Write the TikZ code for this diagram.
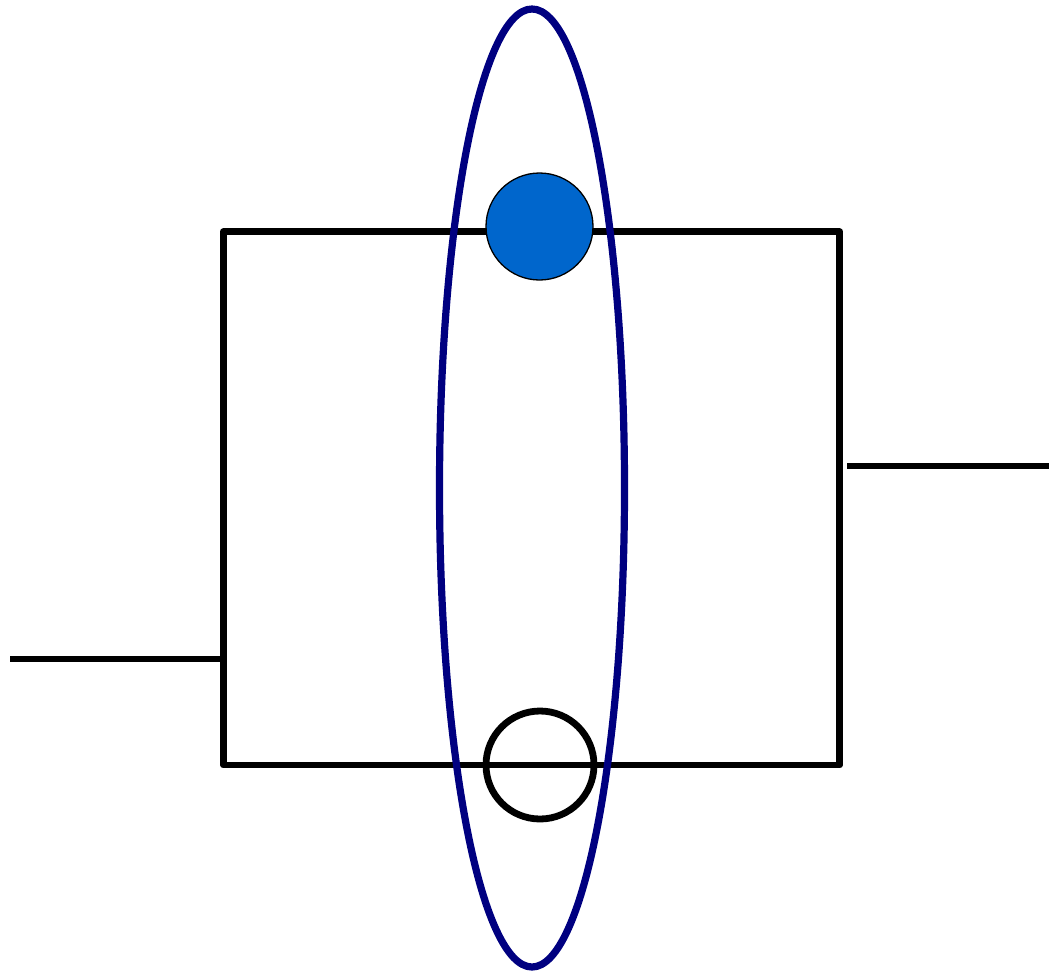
\documentclass[tikz,border=0pt]{standalone}
\usepackage{tikz}
\usetikzlibrary{positioning,shapes.geometric}
\definecolor{marino}{HTML}{000080}
\definecolor{azul}{HTML}{0066CC}

\begin{document}
\begin{tikzpicture}[x=1pt,y=-1pt,line width=6.8pt,
    caja/.style={draw,rectangle,line join=round,inner sep=0pt,minimum width=616.4pt,minimum height=533.3pt},
    lazo/.style={draw=marino,ellipse,line width=7.2pt,inner sep=0pt,minimum width=185pt,minimum height=958pt},
    lleno/.style={draw,circle,fill=azul,line width=1.3pt,inner sep=0pt,minimum size=107pt},
    hueco/.style={draw,circle,inner sep=0pt,minimum size=108pt}]
  \useasboundingbox (0,0) rectangle (1049,975);
  % bloque y sus terminales
  \node[caja] (bloque) at (531.5,498.4) {};
  \coordinate (entrada) at (10,659);
  \draw (entrada) -- (entrada -| bloque.west);
  \coordinate (salida a) at (847,466);
  \coordinate (salida b) at (1049,466);
  \draw (salida a) -- (salida b);
  % puntos sobre el bloque
  \node[hueco] (abajo) at (540,765) {};
  \node[lazo] (lazo) at (532,488) {};
  \node[lleno] (arriba) at (539.5,226.5) {};
\end{tikzpicture}
\end{document}
